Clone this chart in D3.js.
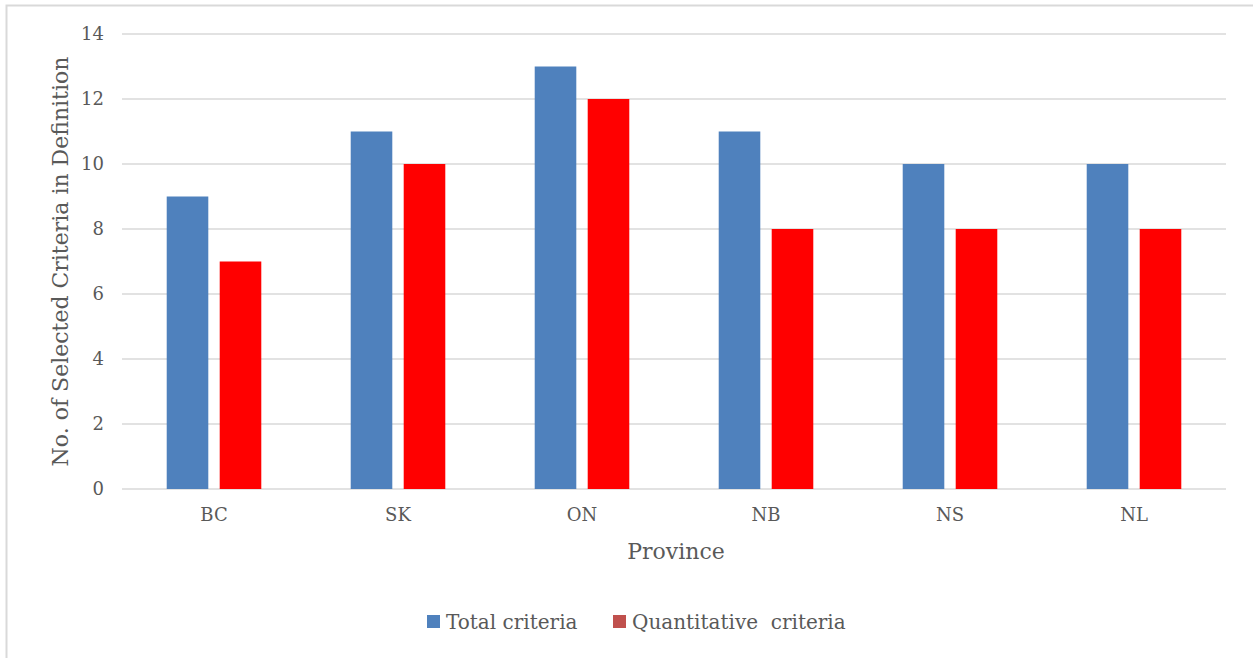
<!DOCTYPE html>
<html>
<head>
<meta charset="utf-8">
<script src="https://cdn.jsdelivr.net/npm/d3@7"></script>
<style>
  html, body { margin: 0; padding: 0; background: #fff; }
  svg { display: block; }
  text { font-family: "DejaVu Serif", "Liberation Serif", serif; fill: #595959; }
</style>
</head>
<body>
<svg id="chart" width="1253" height="658"></svg>
<script>
// Provinces and criteria counts
const provinces = ["BC", "SK", "ON", "NB", "NS", "NL"];
const totalCriteria = [9, 11, 13, 11, 10, 10];
const quantitativeCriteria = [7, 10, 12, 8, 8, 8];
const seriesNames = ["Total criteria", "Quantitative  criteria"];
const yTicks = [0, 2, 4, 6, 8, 10, 12, 14];

const svg = d3.select("#chart");
const margin = { left: 122, right: 1226, top: 34, bottom: 489 };

// outer frame
svg.append("path")
  .attr("d", "M1253,5.5 H6.5 V658")
  .attr("fill", "none")
  .attr("stroke", "#d9d9d9")
  .attr("stroke-width", 2);

const x = d3.scaleBand().domain(provinces).range([margin.left, margin.right]);
const y = d3.scaleLinear().domain([0, 14]).range([margin.bottom, margin.top]);

const barW = x.bandwidth() * 0.226;
const gap = x.bandwidth() * 0.062;

// gridlines
svg.append("g").selectAll("line").data(yTicks).join("line")
  .attr("x1", margin.left).attr("x2", margin.right)
  .attr("y1", d => y(d)).attr("y2", d => y(d))
  .attr("stroke", "#d9d9d9").attr("stroke-width", 1.3);

// y tick labels
const yAxis = d3.axisLeft(y).tickValues(yTicks).tickSize(0).tickPadding(0);
const gy = svg.append("g").attr("transform", `translate(104,0)`).call(yAxis);
gy.select(".domain").remove();
gy.selectAll("text").attr("font-size", 18).attr("fill", "#595959")
  .style("font-family", '"DejaVu Serif", serif');

// x tick labels
const xAxis = d3.axisBottom(x).tickSize(0).tickPadding(0);
const gx = svg.append("g").attr("transform", `translate(0,508)`).call(xAxis);
gx.select(".domain").remove();
gx.selectAll("text").attr("font-size", 18).attr("fill", "#595959")
  .style("font-family", '"DejaVu Serif", serif');

const colors = ["#4f81bd", "#ff0000"];
const legendColors = ["#4f81bd", "#c0504d"];
const series = [totalCriteria, quantitativeCriteria];

series.forEach((vals, si) => {
  svg.append("g").selectAll("rect").data(provinces).join("rect")
    .attr("x", (p) => x(p) + x.bandwidth() / 2 + (si === 0 ? -gap / 2 - barW : gap / 2))
    .attr("y", (p, i) => y(vals[i]))
    .attr("width", barW)
    .attr("height", (p, i) => y(0) - y(vals[i]))
    .attr("fill", colors[si]);
});

// axis titles
svg.append("text")
  .attr("x", (margin.left + margin.right) / 2 + 2).attr("y", 559)
  .attr("text-anchor", "middle").attr("font-size", 22)
  .style("font-family", '"DejaVu Serif", serif')
  .text("Province");

svg.append("text")
  .attr("transform", `translate(68,${(margin.top + margin.bottom) / 2}) rotate(-90)`)
  .attr("text-anchor", "middle").attr("font-size", 22)
  .style("font-family", '"DejaVu Serif", serif')
  .text("No. of Selected Criteria in Definition");

// legend
const legendX = [427, 613];
seriesNames.forEach((name, i) => {
  svg.append("rect").attr("x", legendX[i]).attr("y", 615).attr("width", 13).attr("height", 13)
    .attr("fill", legendColors[i]);
  svg.append("text").attr("x", legendX[i] + 19).attr("y", 629)
    .attr("font-size", 20)
    .style("font-family", '"DejaVu Serif", serif')
    .style("white-space", "pre")
    .text(name);
});
</script>
</body>
</html>
